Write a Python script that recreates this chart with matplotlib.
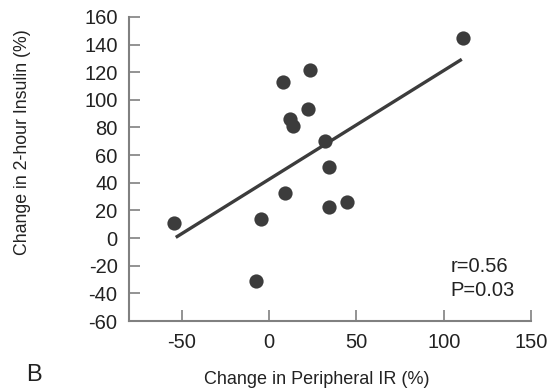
import numpy as np
import matplotlib.pyplot as plt

plt.rcParams['font.family'] = ['Liberation Sans', 'DejaVu Sans']
plt.rcParams['axes.unicode_minus'] = False

# data
ir_change = [-54.3, -4.8, -7.3, 7.8, 8.9, 12.0, 13.7, 22.1, 23.6, 31.8, 34.5, 34.3, 44.6, 110.9]
insulin_change = [10.6, 13.8, -31.1, 112.9, 32.8, 86.1, 80.8, 93.4, 121.8, 70.5, 51.4, 22.2, 26.1, 144.5]
fit_x = [-53.4, 110.3]
fit_y = [0.5, 129.3]
x_ticks = [-50, 0, 50, 100, 150]
y_ticks = list(range(-60, 161, 20))

dark = '#3c3c3c'
txt = '#222222'
fig = plt.figure(figsize=(5.55, 3.92), dpi=100)
ax = fig.add_axes([0.233, 0.181, 0.724, 0.776])

ax.plot(fit_x, fit_y, color=dark, lw=2.4, solid_capstyle='butt', zorder=2)
ax.scatter(ir_change, insulin_change, s=105, color=dark, zorder=3, linewidths=0)

ax.set_xlim(-80, 150)
ax.set_ylim(-60, 160)
ax.set_xticks(x_ticks)
ax.set_yticks(y_ticks)
ax.tick_params(direction='in', length=8, width=1.2, color='#808080',
               labelsize=14.5, labelcolor=txt, pad=8.5)
for side in ['top', 'right']:
    ax.spines[side].set_visible(False)
for side in ['left', 'bottom']:
    ax.spines[side].set_color('#808080')
    ax.spines[side].set_linewidth(1.5)

fig.text(317 / 555, 1 - 380 / 392, 'Change in Peripheral IR (%)', fontsize=13,
         color=txt, ha='center', va='center')
fig.text(23 / 555, 1 - 142 / 392, 'Change in 2-hour Insulin (%)', fontsize=12.8,
         color=txt, ha='center', va='center', rotation=90)

ax.text(0.80, 0.178, 'r=0.56', transform=ax.transAxes, fontsize=14.5, color=txt, va='center')
ax.text(0.80, 0.099, 'P=0.03', transform=ax.transAxes, fontsize=14.5, color=txt, va='center')
fig.text(34 / 555, 1 - 375 / 392, 'B', fontsize=17, color=txt, ha='center', va='center')

fig.savefig('out.png', dpi=100)
